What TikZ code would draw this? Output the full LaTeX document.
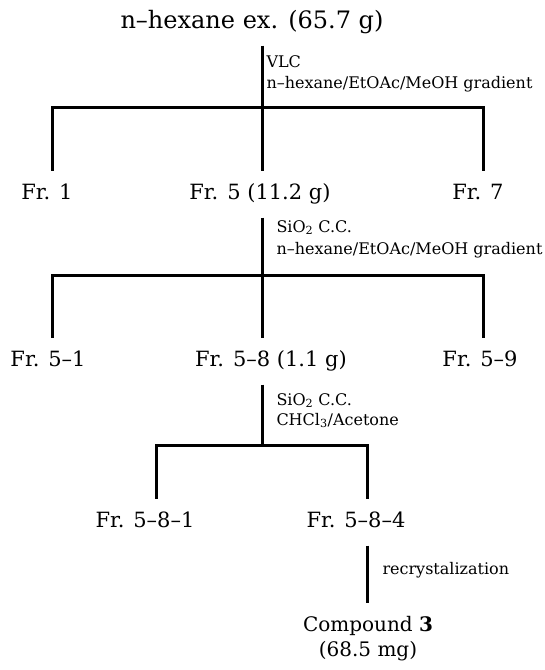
\documentclass[tikz,border=0pt]{standalone}
\usepackage{fontspec}
\setmainfont{DejaVu Serif}

\begin{document}
\begin{tikzpicture}[x=1pt, y=-1pt, line width=3pt,
    ttl/.style={font=\fontsize{24}{28}\selectfont, anchor=base, text depth=5pt, inner ysep=11pt},
    fr/.style={font=\fontsize{21}{25}\selectfont, anchor=base, text height=15pt, text depth=5pt, inner ysep=12pt},
    cond/.style={font=\fontsize{16}{19}\selectfont, anchor=base west, inner sep=0pt},
    cpd/.style={font=\fontsize{20}{25}\selectfont, align=center, anchor=north, inner ysep=12pt}]
\useasboundingbox (0,0) rectangle (545,670);

% extract -> VLC
\node[ttl] (ext) at (252,28) {n--hexane ex. (65.7 g)};
\coordinate (j1) at (262,107);
\coordinate (l1) at (52,107);
\coordinate (r1) at (483,107);
\node[cond] (vlc) at (265,67) {VLC};
\node[cond] (vlcs) at (265,88) {n--hexane/EtOAc/MeOH gradient};
\node[fr] (f1) at (47,199) {Fr. 1};
\node[fr] (f5) at (260,199) {Fr. 5 (11.2 g)};
\node[fr] (f7) at (478,199) {Fr. 7};
\draw (ext.south -| j1) -- (f5.north -| j1);
\draw (f1.north -| l1) |- (j1) -| (f7.north -| r1);

% Fr. 5 -> SiO2 C.C.
\coordinate (j2) at (262,275);
\coordinate (l2) at (52,275);
\coordinate (r2) at (483,275);
\node[cond] (cc1) at (275,232) {SiO\textsubscript{2} C.C.};
\node[cond] (cc1s) at (275,254) {n--hexane/EtOAc/MeOH gradient};
\node[fr] (f51) at (48,366) {Fr. 5--1};
\node[fr] (f58) at (271,366) {Fr. 5--8 (1.1 g)};
\node[fr] (f59) at (480,366) {Fr. 5--9};
\draw (f5.south -| j2) -- (f58.north -| j2);
\draw (f51.north -| l2) |- (j2) -| (f59.north -| r2);

% Fr. 5-8 -> SiO2 C.C.
\coordinate (j3) at (262,445);
\coordinate (l3) at (156,445);
\coordinate (r3) at (367,445);
\node[cond] (cc2) at (275,405) {SiO\textsubscript{2} C.C.};
\node[cond] (cc2s) at (275,425) {CHCl\textsubscript{3}/Acetone};
\node[fr] (f581) at (145,527) {Fr. 5--8--1};
\node[fr] (f584) at (356,527) {Fr. 5--8--4};
\draw (f58.south -| j3) -- (j3);
\draw (f581.north -| l3) |- (j3) -| (f584.north -| r3);

% recrystalization
\node[cond] (rc) at (381,574) {recrystalization};
\node[cpd] (cpd) at (368,603) {Compound \textbf{3}\\(68.5 mg)};
\draw (f584.south -| r3) -- (cpd.north -| r3);

\end{tikzpicture}
\end{document}
